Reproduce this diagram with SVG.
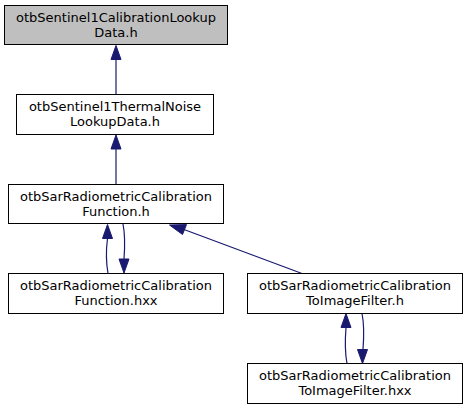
<svg xmlns="http://www.w3.org/2000/svg" width="467" height="409" viewBox="0 0 467 409">
<style>
.node rect{fill:#ffffff;stroke:#000000;stroke-width:1}
.node.root rect{fill:#bfbfbf}
.node text{font-family:"DejaVu Sans",sans-serif;font-size:13px;fill:#000000;text-anchor:middle}
.edges path{fill:none;stroke:#191970;stroke-width:1.2}
.edges polygon{fill:#191970;stroke:#191970;stroke-width:1}
</style>
<rect width="467" height="409" fill="#ffffff"/>
<g class="edges" id="edges">
<path d="M116,94.5 L116,59.5"/>
<polygon points="116,45.5 111,59.5 121,59.5"/>
<path d="M116,184.5 L116,149"/>
<polygon points="116,135 111,149 121,149"/>
<path d="M108,273.5 C106,262 106,250 107.5,238.5"/>
<polygon points="107.5,224.5 102.5,238.5 112.5,238.5"/>
<path d="M123,224 C125,234 125,246 124,259"/>
<polygon points="124,273 119,259 129,259"/>
<path d="M302,273.5 L184,229.5"/>
<polygon points="169.5,225 182.5,234.5 186.5,224.6"/>
<path d="M347,363.5 C345,353 345,340 346,327.5"/>
<polygon points="346,313.5 341,327.5 351,327.5"/>
<path d="M362,313.5 C364,323 364,336 363,349.5"/>
<polygon points="362.5,363.5 357.5,349.5 367.5,349.5"/>
</g>
<g class="node root" id="node1">
<rect x="4.5" y="5.5" width="223" height="39"/>
<text x="116" y="21.5">otbSentinel1CalibrationLookup</text>
<text x="116" y="36.5">Data.h</text>
</g>
<g class="node" id="node2">
<rect x="16.5" y="94.5" width="197" height="40"/>
<text x="115" y="111">otbSentinel1ThermalNoise</text>
<text x="115" y="126">LookupData.h</text>
</g>
<g class="node" id="node3">
<rect x="8.5" y="184.5" width="215" height="39"/>
<text x="116" y="200.5">otbSarRadiometricCalibration</text>
<text x="116" y="215.5">Function.h</text>
</g>
<g class="node" id="node4">
<rect x="8.5" y="273.5" width="215" height="40"/>
<text x="116" y="290">otbSarRadiometricCalibration</text>
<text x="116" y="305">Function.hxx</text>
</g>
<g class="node" id="node5">
<rect x="247.5" y="273.5" width="215" height="40"/>
<text x="355" y="290">otbSarRadiometricCalibration</text>
<text x="355" y="305">ToImageFilter.h</text>
</g>
<g class="node" id="node6">
<rect x="247.5" y="363.5" width="215" height="40"/>
<text x="355" y="380">otbSarRadiometricCalibration</text>
<text x="355" y="395">ToImageFilter.hxx</text>
</g>
</svg>
